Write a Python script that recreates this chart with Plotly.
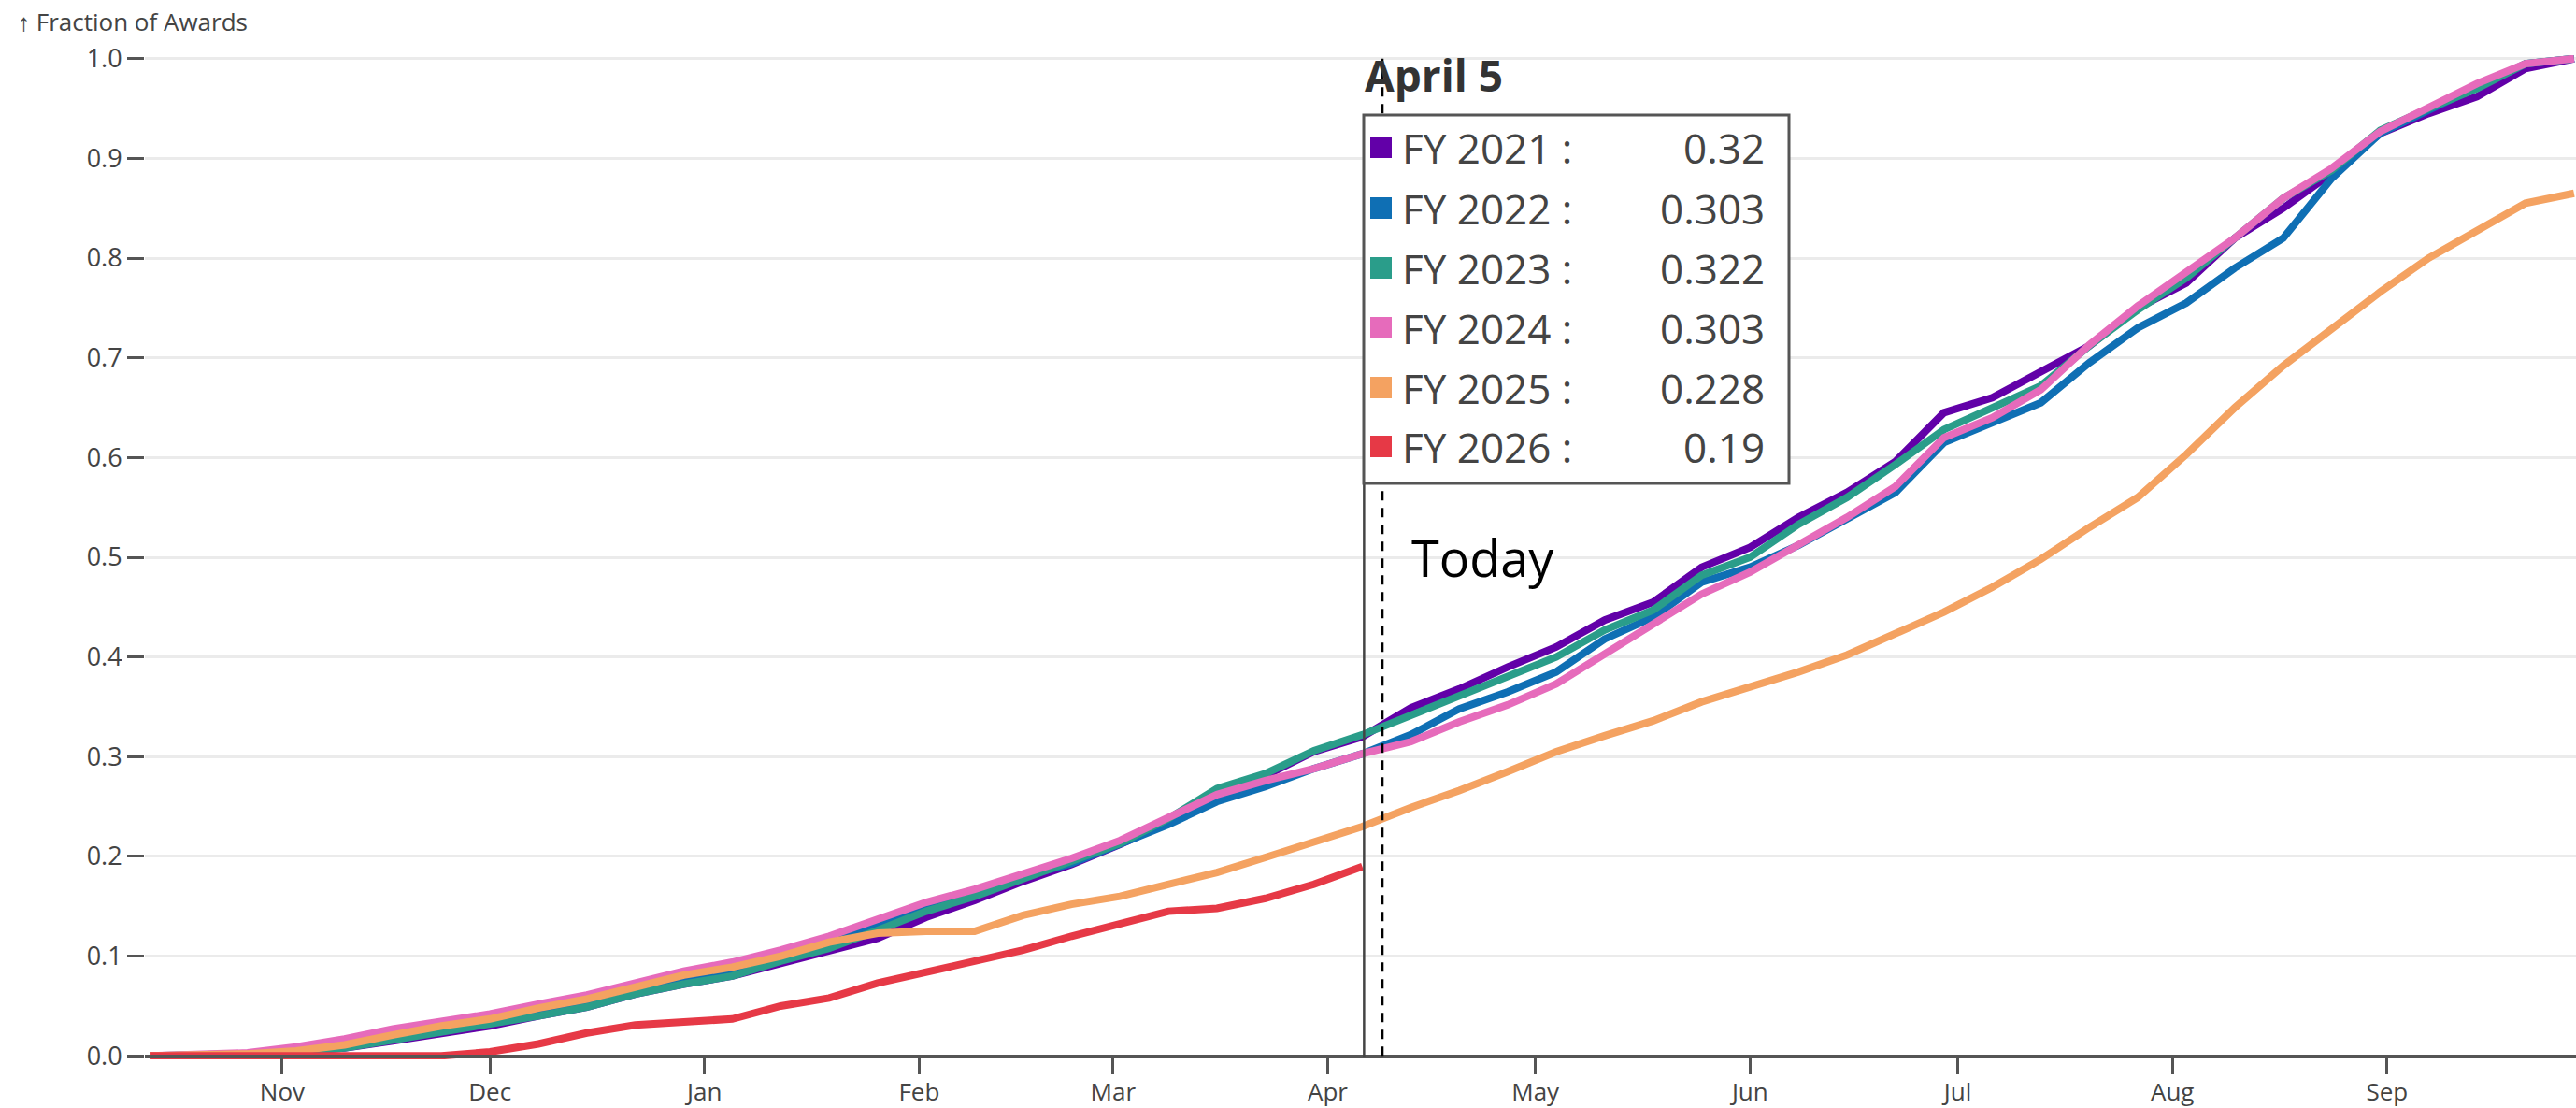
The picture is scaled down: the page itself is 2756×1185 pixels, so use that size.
import pandas as pd
import plotly.graph_objects as go

# ---------------- data ----------------
dates = pd.date_range("2024-10-13", "2025-09-28", freq="7D")

fy2021 = [0, 0, 0.001,
          0.004, 0.008, 0.015, 0.022,
          0.03, 0.04, 0.049, 0.062, 0.072,
          0.08, 0.093, 0.106, 0.118,
          0.139, 0.156, 0.175, 0.192,
          0.212, 0.234, 0.262, 0.281, 0.305,
          0.32, 0.349, 0.368, 0.39,
          0.41, 0.437, 0.455, 0.49,
          0.51, 0.54, 0.565, 0.596, 0.645,
          0.66, 0.685, 0.712, 0.75,
          0.775, 0.82, 0.85, 0.885, 0.925,
          0.945, 0.962, 0.99, 1.0]

fy2022 = [0, 0.001, 0.002,
          0.006, 0.012, 0.02, 0.028,
          0.036, 0.045, 0.055, 0.067, 0.078,
          0.087, 0.1, 0.114, 0.13,
          0.148, 0.164, 0.18, 0.193,
          0.212, 0.232, 0.255, 0.27, 0.288,
          0.303, 0.322, 0.348, 0.365,
          0.385, 0.418, 0.44, 0.475,
          0.49, 0.512, 0.538, 0.565, 0.615,
          0.635, 0.655, 0.695, 0.73,
          0.755, 0.79, 0.82, 0.88, 0.925,
          0.948, 0.97, 0.995, 1.0]

fy2023 = [0, 0, 0.001,
          0.005, 0.008, 0.016, 0.024,
          0.031, 0.04, 0.049, 0.062, 0.072,
          0.08, 0.095, 0.108, 0.126,
          0.145, 0.16, 0.178, 0.195,
          0.213, 0.238, 0.268, 0.283, 0.306,
          0.322, 0.342, 0.362, 0.382,
          0.4, 0.427, 0.447, 0.482,
          0.5, 0.533, 0.56, 0.593, 0.628,
          0.65, 0.672, 0.712, 0.748,
          0.78, 0.82, 0.86, 0.888, 0.928,
          0.95, 0.97, 0.995, 1.0]

fy2024 = [0, 0.001, 0.003,
          0.009, 0.017, 0.027, 0.035,
          0.042, 0.052, 0.061, 0.073, 0.085,
          0.094, 0.106, 0.12, 0.137,
          0.154, 0.167, 0.183, 0.198,
          0.216, 0.238, 0.262, 0.276, 0.288,
          0.303, 0.315, 0.335, 0.352,
          0.373, 0.403, 0.435, 0.463,
          0.485, 0.512, 0.54, 0.571, 0.62,
          0.64, 0.668, 0.713, 0.752,
          0.786, 0.82, 0.86, 0.89, 0.927,
          0.952, 0.975, 0.995, 1.0]

fy2025 = [0, 0.001, 0.002,
          0.005, 0.011, 0.021, 0.03,
          0.037, 0.048, 0.057, 0.069, 0.081,
          0.089, 0.1, 0.114, 0.123,
          0.125, 0.125, 0.141, 0.152,
          0.16, 0.172, 0.184, 0.199, 0.214,
          0.23, 0.249, 0.266, 0.285,
          0.305, 0.321, 0.336, 0.355,
          0.37, 0.385, 0.402, 0.423, 0.445,
          0.47, 0.498, 0.53, 0.56,
          0.603, 0.65, 0.692, 0.73, 0.766,
          0.8, 0.828, 0.855, 0.865]

fy2026 = [0, 0, 0,
          0, 0, 0, 0,
          0.004, 0.012, 0.023, 0.031, 0.034,
          0.037, 0.05, 0.058, 0.073,
          0.084, 0.094, 0.106, 0.12,
          0.132, 0.145, 0.148, 0.158, 0.172,
          0.19] + [None] * 25

series_names = ["FY 2021", "FY 2022", "FY 2023", "FY 2024", "FY 2025", "FY 2026"]
series_values = [fy2021, fy2022, fy2023, fy2024, fy2025, fy2026]
series_colors = ["#6200a8", "#0f6fb4", "#2a9d8a", "#e66bbb", "#f4a261", "#e63946"]
hover_values = ["0.32", "0.303", "0.322", "0.303", "0.228", "0.19"]
hover_label = "April 5"
hover_date = "2025-04-06 06:00"
today_date = "2025-04-08 21:00"
y_ticks = [0.0, 0.1, 0.2, 0.3, 0.4, 0.5, 0.6, 0.7, 0.8, 0.9, 1.0]

# ---------------- layout geometry ----------------
W, H = 2756, 1185
L, R, T, B = 155, 0, 59, 52
PAD = 0.0035
FONT = "Open Sans"

def px(x):
    return (x - L) / (W - L - R)

def py(y):
    return (H - B - y) / (H - B - T)

fig = go.Figure()
for name, vals, col in zip(series_names, series_values, series_colors):
    fig.add_trace(go.Scatter(x=dates, y=vals, mode="lines", name=name,
                             line=dict(color=col, width=8),
                             hoverinfo="skip", showlegend=False))

shapes = []
shapes.append(dict(type="line", xref="x", yref="y", x0=today_date, x1=today_date,
                   y0=0, y1=1.0, line=dict(color="black", width=3, dash="10px,8px")))
shapes.append(dict(type="line", xref="x", yref="paper", x0=hover_date, x1=hover_date,
                   y0=py(1130), y1=py(517), line=dict(color="#444", width=2.5)))
shapes.append(dict(type="rect", xref="paper", yref="paper",
                   x0=px(1459), x1=px(1914), y0=py(517), y1=py(123),
                   line=dict(color="#555", width=3), fillcolor="white"))

annotations = [
    dict(text="↑ Fraction of Awards", xref="paper", yref="paper", x=px(17), y=py(23),
         xanchor="left", yanchor="middle", showarrow=False,
         font=dict(family=FONT, size=26, color="#444")),
    dict(text="<b>" + hover_label + "</b>", xref="paper", yref="paper", x=px(1458), y=py(80),
         xanchor="left", yanchor="middle", showarrow=False,
         font=dict(family=FONT, size=46, color="#333")),
    dict(text="Today", xref="paper", yref="paper", x=px(1508), y=py(596),
         xanchor="left", yanchor="middle", showarrow=False,
         font=dict(family=FONT, size=54, color="black")),
]

row_y = [158, 223, 287, 351, 415, 478]
for name, val, col, ry in zip(series_names, hover_values, series_colors, row_y):
    shapes.append(dict(type="rect", xref="paper", yref="paper",
                       x0=px(1466), x1=px(1489), y0=py(ry + 11), y1=py(ry - 12),
                       line=dict(width=0), fillcolor=col))
    annotations.append(dict(text=name + " :", xref="paper", yref="paper", x=px(1498), y=py(ry),
                            xanchor="left", yanchor="middle", showarrow=False,
                            font=dict(family=FONT, size=44, color="#444")))
    annotations.append(dict(text=val, xref="paper", yref="paper", x=px(1890), y=py(ry),
                            xanchor="right", yanchor="middle", showarrow=False,
                            font=dict(family=FONT, size=44, color="#444")))

fig.update_layout(
    width=W, height=H,
    margin=dict(l=L, r=R, t=T, b=B, autoexpand=False),
    paper_bgcolor="white", plot_bgcolor="white",
    showlegend=False,
    shapes=shapes, annotations=annotations,
    font=dict(family=FONT, color="#444"),
    xaxis=dict(type="date", range=["2024-10-12 04:00", "2025-09-28 07:00"],
               tick0="2024-11-01", dtick="M1", tickformat="%b",
               ticks="outside", ticklen=18, tickwidth=2.5, tickcolor="#555",
               showline=True, linecolor="#555", linewidth=2.5,
               showgrid=False, zeroline=False,
               anchor="free", position=PAD / (1 + 2 * PAD),
               ticklabelstandoff=-3,
               tickfont=dict(family=FONT, size=26, color="#444")),
    yaxis=dict(range=[-PAD, 1 + PAD], tickvals=y_ticks,
               ticktext=[f"{v:.1f}" for v in y_ticks],
               ticks="outside", ticklen=18, tickwidth=2.5, tickcolor="#555",
               showline=False, showgrid=True, gridcolor="#ebebeb", gridwidth=2.5,
               zeroline=False,
               tickfont=dict(family=FONT, size=27, color="#444")),
)

fig.write_html("out.html", config={"displayModeBar": False},
               post_script="document.body.style.margin='0';document.body.style.overflow='hidden';")
